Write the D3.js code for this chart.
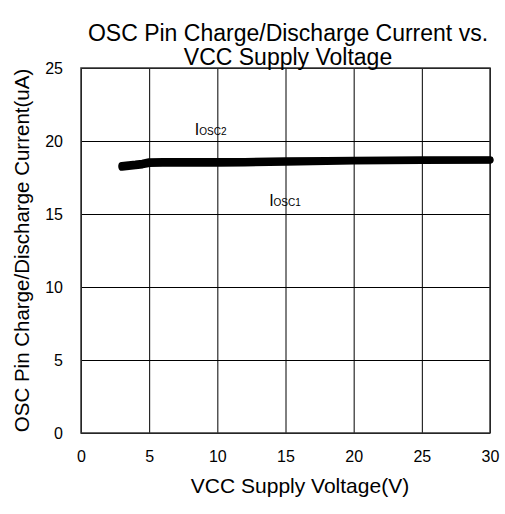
<!DOCTYPE html>
<html>
<head>
<meta charset="utf-8">
<script src="https://cdn.jsdelivr.net/npm/d3@7"></script>
<style>
  html, body { margin: 0; padding: 0; background: #fff; }
  svg text { font-family: "Liberation Sans", Arial, sans-serif; fill: #000; }
</style>
</head>
<body>
<div id="chart"></div>
<script>
// supply voltage (V)
const vcc = [3, 3.5, 4, 4.5, 5, 6, 8, 10, 12, 15, 18, 20, 25, 30];
// charge / discharge current (uA)
const iosc1 = [18.2, 18.26, 18.3, 18.36, 18.46, 18.48, 18.48, 18.48, 18.5, 18.55, 18.6, 18.63, 18.66, 18.68];
const iosc2 = [18.32, 18.38, 18.42, 18.48, 18.58, 18.59, 18.59, 18.59, 18.6, 18.64, 18.67, 18.69, 18.71, 18.72];
const xTicks = [0, 5, 10, 15, 20, 25, 30];
const yTicks = [0, 5, 10, 15, 20, 25];

const canvasWidth = 505;
const canvasHeight = 514;
const margins = { top: 68, right: 15, bottom: 81, left: 81 };
const width = canvasWidth - margins.left - margins.right;
const height = canvasHeight - margins.top - margins.bottom;

const svg = d3.select('#chart')
  .append('svg')
    .attr('width', canvasWidth)
    .attr('height', canvasHeight);

const plot = svg.append('g')
  .attr('transform', `translate(${margins.left}, ${margins.top})`);

const scaleX = d3.scaleLinear().domain([0, 30]).range([0, width]);
const scaleY = d3.scaleLinear().domain([0, 25]).range([height, 0]);

// grid lines
const gridX = d3.axisBottom(scaleX).tickValues(xTicks).tickSize(-height).tickFormat('');
const gridY = d3.axisLeft(scaleY).tickValues(yTicks).tickSize(-width).tickFormat('');

plot.append('g')
  .attr('transform', `translate(0, ${height})`)
  .call(gridX)
  .call(g => g.select('.domain').remove())
  .call(g => g.selectAll('line').attr('stroke', '#000').attr('stroke-width', 1));

plot.append('g')
  .call(gridY)
  .call(g => g.select('.domain').remove())
  .call(g => g.selectAll('line').attr('stroke', '#000').attr('stroke-width', 1));

// plot border
plot.append('rect')
  .attr('width', width)
  .attr('height', height)
  .attr('fill', 'none')
  .attr('stroke', '#333')
  .attr('stroke-width', 1.5);

// tick labels
const axisX = d3.axisBottom(scaleX).tickValues(xTicks).tickSize(0).tickPadding(18);
const axisY = d3.axisLeft(scaleY).tickValues(yTicks).tickSize(0).tickPadding(18);

plot.append('g')
  .attr('transform', `translate(0, ${height})`)
  .call(axisX)
  .call(g => g.select('.domain').remove())
  .selectAll('text')
    .style('font-size', '16px')
    .attr('fill', '#000');

plot.append('g')
  .call(axisY)
  .call(g => g.select('.domain').remove())
  .selectAll('text')
    .style('font-size', '16px')
    .attr('fill', '#000');

// data lines
const line = d3.line()
  .x((d, i) => scaleX(vcc[i]))
  .y(d => scaleY(d));

[iosc1, iosc2].forEach(series => {
  plot.append('path')
    .datum(series)
    .attr('fill', 'none')
    .attr('stroke', '#000')
    .attr('stroke-width', 7)
    .attr('stroke-linecap', 'round')
    .attr('stroke-linejoin', 'round')
    .attr('d', line);
});

// series labels
const label = (x, y, sub) => {
  const t = plot.append('text')
    .attr('x', scaleX(x))
    .attr('y', scaleY(y))
    .style('font-size', '16px');
  t.append('tspan').text('I');
  t.append('tspan').style('font-size', '10px').text(sub);
};
label(8.35, 20.4, 'OSC2');
label(13.8, 15.55, 'OSC1');

// titles
svg.append('text')
  .attr('x', 288)
  .attr('text-anchor', 'middle')
  .style('font-size', '23px')
  .selectAll('tspan')
  .data(['OSC Pin Charge/Discharge Current vs.', 'VCC Supply Voltage'])
  .enter()
  .append('tspan')
    .attr('x', 288)
    .attr('y', (d, i) => 41 + i * 24)
    .text(d => d);

svg.append('text')
  .attr('x', 300)
  .attr('y', 493)
  .attr('text-anchor', 'middle')
  .style('font-size', '21px')
  .text('VCC Supply Voltage(V)');

svg.append('text')
  .attr('transform', `translate(29, ${margins.top + height / 2}) rotate(-90)`)
  .attr('text-anchor', 'middle')
  .style('font-size', '20.5px')
  .text('OSC Pin Charge/Discharge Current(uA)');
</script>
</body>
</html>
